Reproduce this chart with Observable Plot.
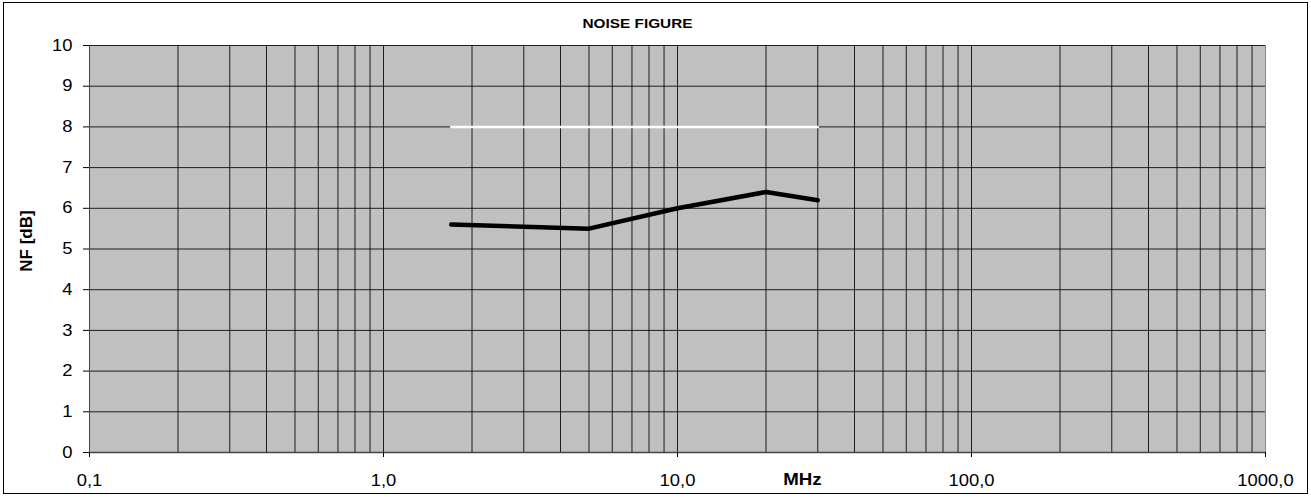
<!DOCTYPE html>
<html>
<head>
<meta charset="utf-8">
<script src="https://cdn.jsdelivr.net/npm/d3@7"></script>
<script src="https://cdn.jsdelivr.net/npm/@observablehq/plot@0.6"></script>
<style>
  html, body { margin: 0; padding: 0; background: #fff; }
  #wrap { position: relative; width: 1311px; height: 497px; }
  #border { position: absolute; left: 3px; top: 2px; width: 1305px; height: 492px; border: 1px solid #000; box-sizing: border-box; pointer-events: none; }
  svg { font-family: "Liberation Sans", Arial, sans-serif; }
</style>
</head>
<body>
<div id="wrap"><div id="border"></div></div>
<script>
// Data
const freqMHz = [1.7, 5, 10, 20, 30];
const nfDb = [5.6, 5.5, 6.0, 6.4, 6.2];
const specFreq = [1.7, 30];
const specNf = [8, 8];
const xMajorTicks = [0.1, 1, 10, 100, 1000];
const yTicks = [0, 1, 2, 3, 4, 5, 6, 7, 8, 9, 10];
const title = "NOISE FIGURE";
const xLabel = "MHz";
const yLabel = "NF [dB]";

const measured = freqMHz.map((f, i) => ({f, nf: nfDb[i]}));
const spec = specFreq.map((f, i) => ({f, nf: specNf[i]}));
const xMinor = [];
for (let d = 0.1; d < 1000; d *= 10) for (let k = 2; k <= 9; k++) xMinor.push(+(d * k).toPrecision(3));
const xGrid = xMinor.concat(xMajorTicks.slice(1, -1));

const fmt = d => d.toFixed(1).replace(".", ",");

const chart = Plot.plot({
  width: 1311,
  height: 497,
  marginLeft: 89,
  marginRight: 46,
  marginTop: 45,
  marginBottom: 45,
  style: {background: "transparent", fontFamily: "Liberation Sans, Arial, sans-serif"},
  x: {type: "log", domain: [0.1, 1000]},
  y: {domain: [0, 10]},
  marks: [
    Plot.frame({fill: "#c0c0c0", stroke: "none"}),
    Plot.ruleX(xGrid, {stroke: "#000", strokeWidth: 1, strokeOpacity: 0.85}),
    Plot.ruleY(yTicks.slice(1), {stroke: "#000", strokeWidth: 1, strokeOpacity: 0.85}),
    Plot.ruleX([0.1], {stroke: "#444", strokeWidth: 1}),
    Plot.ruleX([1000], {stroke: "#888", strokeWidth: 1}),
    Plot.ruleY([0], {stroke: "#444", strokeWidth: 1.5}),
    Plot.axisX({ticks: xMajorTicks, tickFormat: fmt, tickSize: 5, tickPadding: 17, fontSize: 16, label: null, stroke: "#000"}),
    Plot.axisY({ticks: yTicks, tickFormat: d => String(d), tickSize: 6, tickPadding: 11, fontSize: 16, label: null, stroke: "#000"}),
    Plot.line(spec, {x: "f", y: "nf", stroke: "#fff", strokeWidth: 2.5}),
    Plot.line(measured, {x: "f", y: "nf", stroke: "#000", strokeWidth: 4.5, strokeLinecap: "round", strokeLinejoin: "round"}),
    Plot.text([title], {frameAnchor: "top", dx: -40, dy: -26, fontSize: 12, fontWeight: "bold", fill: "#000", className: "ttl"}),
    Plot.text([xLabel], {x: [26.6], frameAnchor: "bottom", dy: 32, fontSize: 17, fontWeight: "bold", fill: "#000", className: "xl"}),
    Plot.text([yLabel], {frameAnchor: "left", textAnchor: "middle", dx: -63, dy: -8, rotate: -90, fontSize: 17, fontWeight: "bold", fill: "#000"})
  ]
});
// widen glyphs horizontally like the reference rendering
function stretch(sel, s) {
  chart.querySelectorAll(sel).forEach(el => {
    const t = el.getAttribute("transform");
    if (t && t.includes("translate")) el.setAttribute("transform", t + ` scale(${s},1)`);
  });
}
stretch("g[aria-label='x-axis tick label'] text", 1.15);
stretch("g[aria-label='y-axis tick label'] text", 1.15);
stretch(".ttl text", 1.28);
stretch(".xl text", 1.1);
document.getElementById("wrap").prepend(chart);
</script>
</body>
</html>
